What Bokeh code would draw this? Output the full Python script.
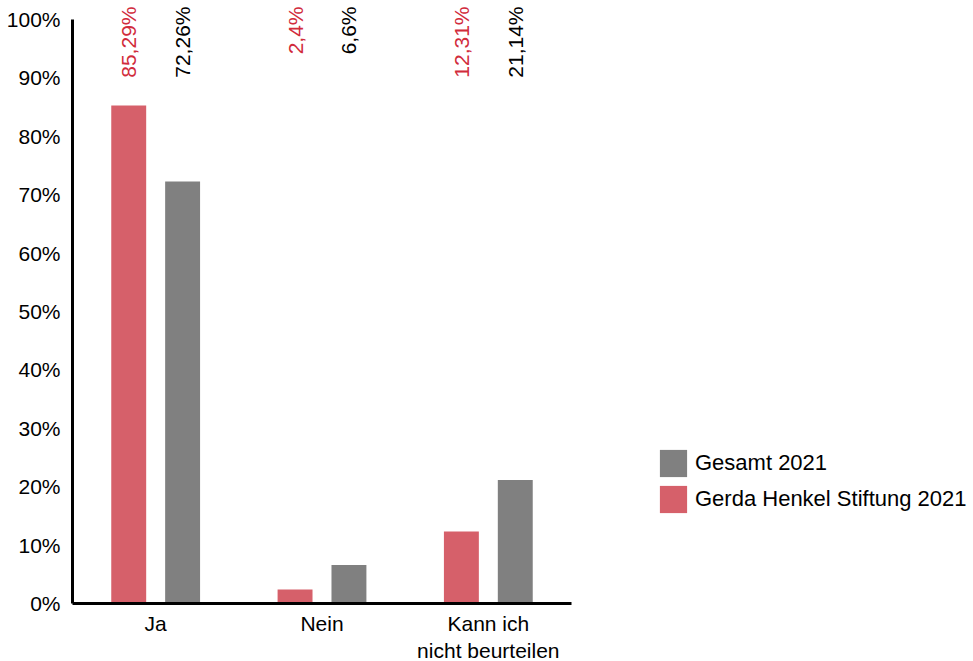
from bokeh.plotting import figure
from bokeh.models import (ColumnDataSource, FactorRange, Range1d, LabelSet, Legend, LegendItem,
                          FixedTicker, PrintfTickFormatter)
from bokeh.core.properties import value
from bokeh.transform import dodge
from bokeh.embed import file_html
from bokeh.resources import INLINE

categories = ["Ja", "Nein", "Kann ich\nnicht beurteilen"]
ghs_2021 = [85.29, 2.4, 12.31]
gesamt_2021 = [72.26, 6.6, 21.14]
ghs_labels = ["85,29%", "2,4%", "12,31%"]
gesamt_labels = ["72,26%", "6,6%", "21,14%"]
y_ticks = list(range(0, 101, 10))

RED = "#D6606A"
GRAY = "#808080"
RED_TEXT = "#D12B3B"
FONT = "Liberation Sans"
Y_TOP = 103.25

src = ColumnDataSource(dict(cat=categories, ghs=ghs_2021, ges=gesamt_2021,
                            ghs_lab=ghs_labels, ges_lab=gesamt_labels))

p = figure(x_range=FactorRange(*categories, range_padding=0), y_range=Range1d(0, Y_TOP),
           frame_width=499, frame_height=603, output_backend="svg", toolbar_location=None,
           min_border_left=72, min_border_right=400, min_border_top=0, min_border_bottom=0)

r_red = p.vbar(x=dodge("cat", -0.162, range=p.x_range), top="ghs", width=0.21, source=src,
               fill_color=RED, line_color=None)
r_gray = p.vbar(x=dodge("cat", 0.162, range=p.x_range), top="ges", width=0.21, source=src,
                fill_color=GRAY, line_color=None)

lab_kw = dict(y=Y_TOP, y_offset=-6, angle=1.5707963, text_align="right", text_baseline="middle",
              text_font_size="21px", text_font=value(FONT), source=src)
p.add_layout(LabelSet(x=dodge("cat", -0.162, range=p.x_range), text="ghs_lab",
                      text_color=RED_TEXT, **lab_kw))
p.add_layout(LabelSet(x=dodge("cat", 0.162, range=p.x_range), text="ges_lab",
                      text_color="#000000", **lab_kw))

p.yaxis.ticker = FixedTicker(ticks=y_ticks)
p.yaxis.formatter = PrintfTickFormatter(format="%d%%")
p.yaxis.bounds = (0, 100)
for ax in (p.xaxis, p.yaxis):
    ax.axis_line_width = 3
    ax.axis_line_color = "#000000"
    ax.major_tick_line_color = None
    ax.minor_tick_line_color = None
    ax.major_label_text_font = FONT
    ax.major_label_text_font_size = "21px"
    ax.major_label_text_color = "#000000"
p.yaxis.major_label_standoff = 6
p.xaxis.major_label_standoff = 2
p.xgrid.grid_line_color = None
p.ygrid.grid_line_color = None
p.outline_line_color = None

legend = Legend(items=[LegendItem(label="Gesamt 2021", renderers=[r_gray]),
                       LegendItem(label="Gerda Henkel Stiftung 2021", renderers=[r_red])],
                location=(85, 87), margin=0, padding=0, spacing=2,
                glyph_width=34, glyph_height=34, label_height=34, label_standoff=5,
                label_text_font=FONT, label_text_font_size="22px", label_text_color="#000000",
                border_line_color=None, background_fill_alpha=0)
p.add_layout(legend, "right")

open("out.html", "w").write(file_html(p, INLINE))
